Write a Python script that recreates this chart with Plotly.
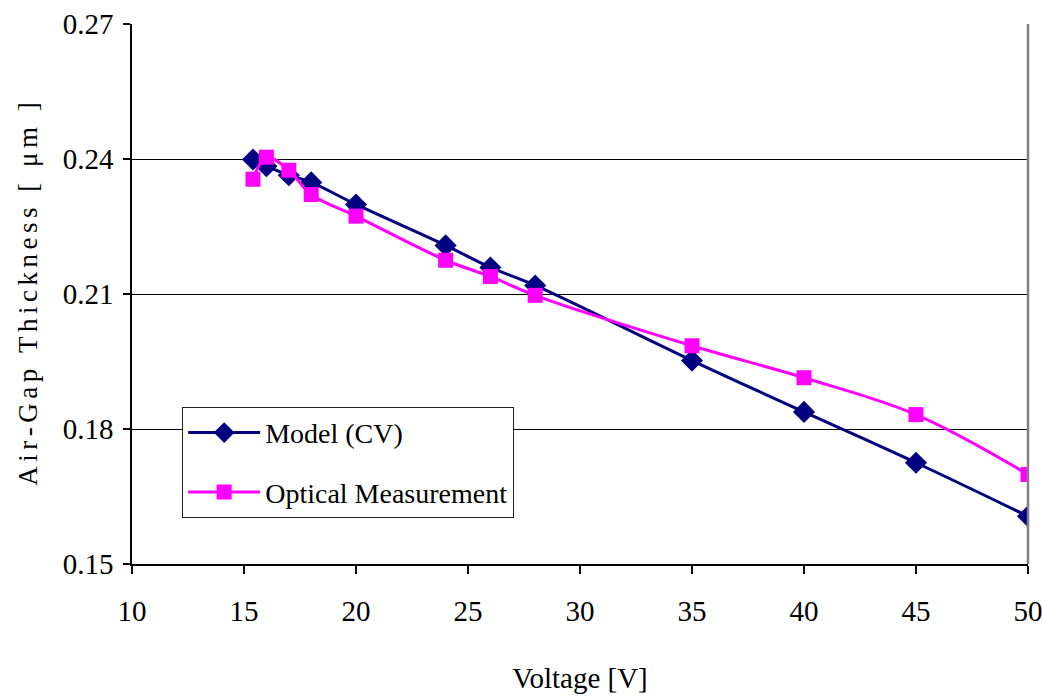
import plotly.graph_objects as go

voltage_model = [15.4, 16, 17, 18, 20, 24, 26, 28, 35, 40, 45, 50]
gap_model = [0.2399, 0.2384, 0.2364, 0.2348, 0.2299, 0.2208, 0.2159, 0.2119, 0.1952, 0.1838, 0.1725, 0.1606]

voltage_optical = [15.4, 16, 17, 18, 20, 24, 26, 28, 35, 40, 45, 50]
gap_optical = [0.2355, 0.2404, 0.2375, 0.2321, 0.2273, 0.2175, 0.2139, 0.2097, 0.1985, 0.1914, 0.1832, 0.1699]

x_ticks = [10, 15, 20, 25, 30, 35, 40, 45, 50]
y_ticks = [0.15, 0.18, 0.21, 0.24, 0.27]

FONT = "Liberation Serif, Times New Roman, serif"

fig = go.Figure()
fig.add_trace(go.Scatter(
    x=voltage_model, y=gap_model, name="Model (CV)", mode="lines+markers",
    line=dict(color="#000080", width=3, shape="spline", smoothing=1.0),
    marker=dict(symbol="diamond", size=17, color="#000080"),
    legendgroup="a",
))
fig.add_trace(go.Scatter(
    x=voltage_optical, y=gap_optical, name="Optical Measurement", mode="lines+markers",
    line=dict(color="#FF00FF", width=3, shape="spline", smoothing=1.0),
    marker=dict(symbol="square", size=15, color="#FF00FF"),
    legendgroup="b",
))

ytitle = "\u2006".join(list("Air-Gap Thickness [ μm ]"))

fig.update_layout(
    width=1042, height=696,
    margin=dict(l=132, r=14, t=24, b=132),
    paper_bgcolor="white", plot_bgcolor="white",
    font=dict(family=FONT, size=28, color="black"),
    showlegend=True,
    legend=dict(
        x=0.056, y=0.291, xanchor="left", yanchor="top",
        bgcolor="white", bordercolor="#222222", borderwidth=1,
        font=dict(family=FONT, size=28, color="black"),
        tracegroupgap=20, itemwidth=72,
    ),
    xaxis=dict(
        range=[10, 50], tickvals=x_ticks, ticktext=[str(v) for v in x_ticks],
        showgrid=False, zeroline=False,
        showline=True, linecolor="black", linewidth=1.5,
        ticks="outside", ticklen=8, tickcolor="black", tickwidth=1.5,
        tickfont=dict(family=FONT, size=29),
        ticklabelstandoff=12, ticklabeloverflow="allow",
        title=dict(text="Voltage [V]", font=dict(family=FONT, size=29), standoff=42),
        automargin=False,
    ),
    yaxis=dict(
        range=[0.15, 0.27], tickvals=y_ticks, ticktext=[f"{v:.2f}" for v in y_ticks],
        showgrid=True, gridcolor="black", gridwidth=1,
        zeroline=False,
        showline=True, linecolor="black", linewidth=1.5,
        ticks="outside", ticklen=7, tickcolor="black", tickwidth=1.5,
        tickfont=dict(family=FONT, size=29),
        ticklabelstandoff=4,
        title=dict(text=ytitle, font=dict(family=FONT, size=27), standoff=17),
        automargin=False,
    ),
    shapes=[dict(type="line", xref="paper", yref="paper", x0=1, x1=1, y0=0, y1=1,
                 line=dict(color="#808080", width=2.5))],
)

fig.write_html("out.html")
